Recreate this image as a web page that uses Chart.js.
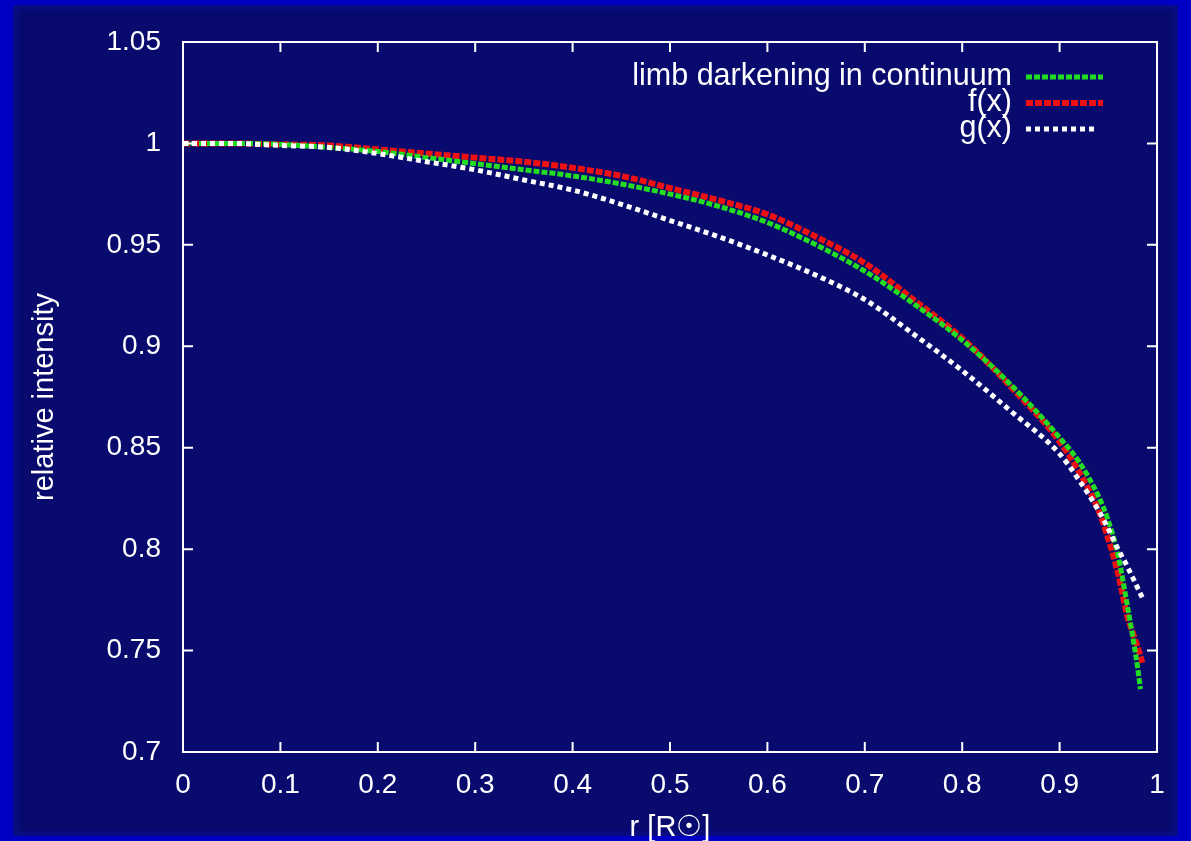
<!DOCTYPE html>
<html>
<head>
<meta charset="utf-8">
<script src="https://cdn.jsdelivr.net/npm/chart.js@4/dist/chart.umd.min.js"></script>
<style>
  html, body { margin: 0; padding: 0; background: #0000c4; overflow: hidden; }
  #frame {
    position: absolute; left: 13px; top: 5px; width: 1165px; height: 831px;
    background: #080a6e;
    box-shadow: inset 0 0 10px #0a12a0;
  }
  #limbChart { position: absolute; left: 0; top: 0; }
</style>
</head>
<body>
<div id="frame"></div>
<canvas id="limbChart" width="1191" height="841"></canvas>
<script>
// radius values (units of R_sun) and relative intensities
const rGreen = [0, 0.05, 0.1, 0.15, 0.2, 0.25, 0.3, 0.35, 0.4, 0.45, 0.5, 0.55, 0.6, 0.65, 0.7, 0.75, 0.8, 0.85, 0.9, 0.92, 0.94, 0.95, 0.96, 0.97, 0.975, 0.98, 0.983];
const limbContinuum = [1.000, 1.000, 0.9995, 0.998, 0.996, 0.993, 0.990, 0.987, 0.984, 0.980, 0.975, 0.969, 0.961, 0.950, 0.937, 0.921, 0.903, 0.881, 0.855, 0.843, 0.826, 0.814, 0.797, 0.771, 0.757, 0.742, 0.731];

const rRed = [0, 0.05, 0.1, 0.15, 0.2, 0.25, 0.3, 0.35, 0.4, 0.45, 0.5, 0.55, 0.6, 0.65, 0.7, 0.75, 0.8, 0.85, 0.9, 0.92, 0.94, 0.95, 0.96, 0.97, 0.975, 0.98, 0.985];
const fx = [1.000, 1.000, 0.9995, 0.999, 0.997, 0.995, 0.993, 0.991, 0.988, 0.984, 0.978, 0.972, 0.965, 0.954, 0.941, 0.923, 0.904, 0.880, 0.853, 0.838, 0.819, 0.805, 0.788, 0.766, 0.759, 0.752, 0.744];

const rWhite = [0, 0.05, 0.1, 0.15, 0.2, 0.25, 0.3, 0.35, 0.4, 0.45, 0.5, 0.55, 0.6, 0.65, 0.7, 0.75, 0.8, 0.85, 0.9, 0.92, 0.94, 0.95, 0.96, 0.97, 0.975, 0.98, 0.985];
const gx = [1.000, 1.000, 0.999, 0.998, 0.995, 0.991, 0.987, 0.982, 0.977, 0.970, 0.962, 0.954, 0.945, 0.935, 0.923, 0.906, 0.888, 0.868, 0.847, 0.834, 0.819, 0.810, 0.800, 0.791, 0.786, 0.781, 0.776];

const seriesLabels = ["limb darkening in continuum", "f(x)", "g(x)"];
const xTicks = [0, 0.1, 0.2, 0.3, 0.4, 0.5, 0.6, 0.7, 0.8, 0.9, 1];
const yTicks = [0.7, 0.75, 0.8, 0.85, 0.9, 0.95, 1, 1.05];

const FONT = "'Liberation Sans', Arial, sans-serif";

function toPoints(xs, ys) {
  return xs.map((x, i) => ({ x: x, y: ys[i] }));
}

// gnuplot style frame with inward ticks on all four sides + legend
const framePlugin = {
  id: "frame",
  afterDraw(chart) {
    const ctx = chart.ctx;
    const a = chart.chartArea;
    const sx = chart.scales.x, sy = chart.scales.y;
    ctx.save();
    ctx.strokeStyle = "#ffffff";
    ctx.lineWidth = 2;
    ctx.strokeRect(a.left, a.top, a.right - a.left, a.bottom - a.top);
    ctx.beginPath();
    xTicks.forEach(v => {
      const px = sx.getPixelForValue(v);
      ctx.moveTo(px, a.bottom); ctx.lineTo(px, a.bottom - 10);
      ctx.moveTo(px, a.top); ctx.lineTo(px, a.top + 10);
    });
    yTicks.forEach(v => {
      const py = sy.getPixelForValue(v);
      ctx.moveTo(a.left, py); ctx.lineTo(a.left + 10, py);
      ctx.moveTo(a.right, py); ctx.lineTo(a.right - 10, py);
    });
    ctx.stroke();

    // legend
    ctx.font = "30.5px " + FONT;
    ctx.textAlign = "right";
    ctx.textBaseline = "middle";
    const rows = [77, 103, 129];
    chart.data.datasets.forEach(ds => {
      const i = seriesLabels.indexOf(ds.label);
      const y = rows[i];
      ctx.fillStyle = "#ffffff";
      ctx.fillText(ds.label, 1012, y);
      ctx.strokeStyle = ds.borderColor;
      ctx.lineWidth = ds.borderWidth;
      ctx.setLineDash(ds.borderDash);
      ctx.beginPath();
      ctx.moveTo(1026, y);
      ctx.lineTo(i === 2 ? 1098 : 1103, y);
      ctx.stroke();
    });
    ctx.restore();
  }
};

const ctx = document.getElementById("limbChart").getContext("2d");
new Chart(ctx, {
  type: "line",
  data: {
    datasets: [
      {
        label: seriesLabels[2],
        data: toPoints(rWhite, gx),
        borderColor: "#ffffff",
        borderWidth: 5,
        borderDash: [5, 4],
        pointRadius: 0,
        order: 0
      },
      {
        label: seriesLabels[0],
        data: toPoints(rGreen, limbContinuum),
        borderColor: "#22dd22",
        borderWidth: 5,
        borderDash: [6, 2],
        pointRadius: 0,
        order: 1
      },
      {
        label: seriesLabels[1],
        data: toPoints(rRed, fx),
        borderColor: "#ee1111",
        borderWidth: 6,
        borderDash: [7, 2],
        pointRadius: 0,
        order: 2
      }
    ]
  },
  options: {
    responsive: false,
    animation: false,
    devicePixelRatio: 1,
    elements: { line: { cubicInterpolationMode: "monotone" } },
    layout: { padding: { top: 42, right: 34, left: 0, bottom: 0 } },
    plugins: { legend: { display: false }, tooltip: { enabled: false } },
    scales: {
      x: {
        type: "linear",
        min: 0,
        max: 1,
        afterFit: s => { s.height = 89; },
        afterBuildTicks: s => { s.ticks = xTicks.map(v => ({ value: v })); },
        grid: { display: false },
        border: { display: false },
        ticks: {
          color: "#ffffff",
          font: { family: FONT, size: 28 },
          padding: 8,
          maxRotation: 0,
          autoSkip: false,
          callback: v => String(+v.toFixed(2))
        },
        title: {
          display: true,
          text: "r [R\u2609]",
          color: "#ffffff",
          font: { family: FONT, size: 29 },
          padding: { top: 0, bottom: -4 }
        }
      },
      y: {
        type: "linear",
        min: 0.7,
        max: 1.05,
        afterFit: s => { s.width = 183; },
        afterBuildTicks: s => { s.ticks = yTicks.map(v => ({ value: v })); },
        grid: { display: false },
        border: { display: false },
        ticks: {
          color: "#ffffff",
          font: { family: FONT, size: 28 },
          padding: 14,
          autoSkip: false,
          callback: v => String(+v.toFixed(2))
        },
        title: {
          display: true,
          text: "relative intensity",
          color: "#ffffff",
          font: { family: FONT, size: 29 },
          padding: { top: 28, bottom: 0 }
        }
      }
    }
  },
  plugins: [framePlugin]
});
</script>
</body>
</html>
